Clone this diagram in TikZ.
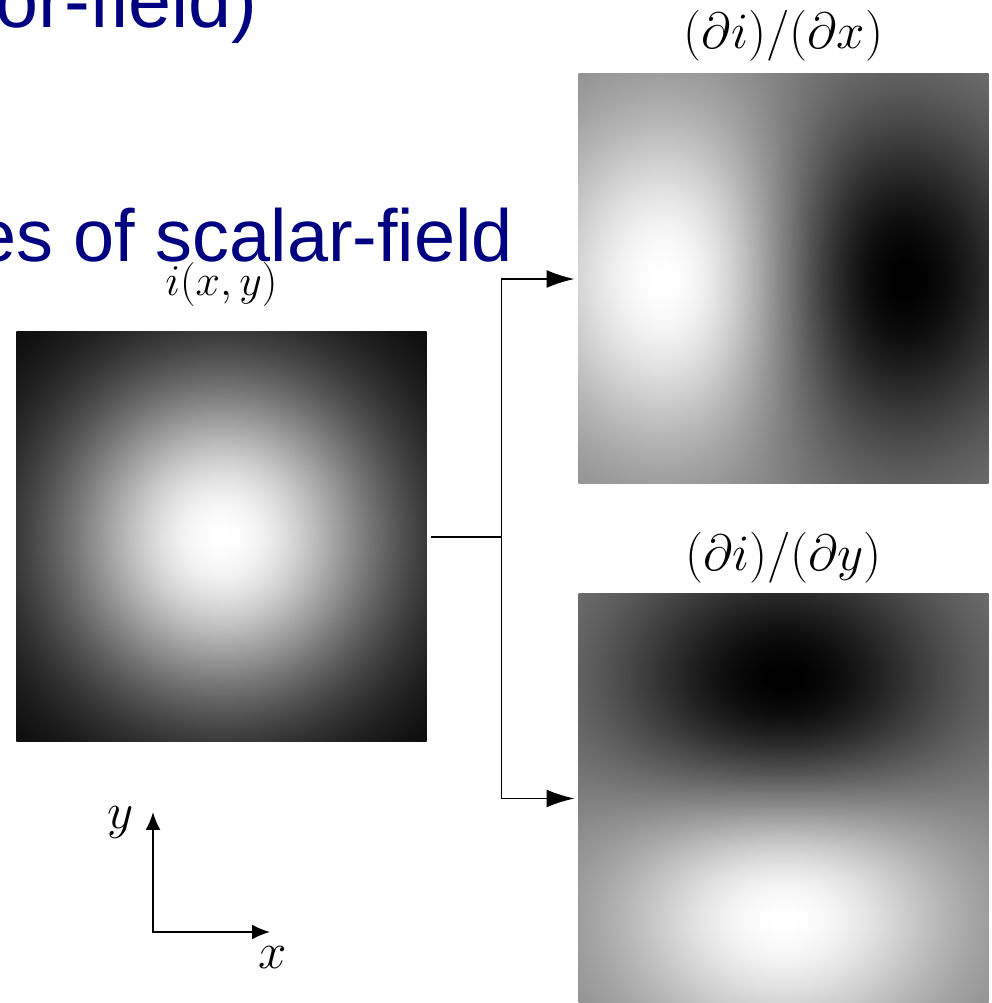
\documentclass[tikz,border=0pt]{standalone}
\usepackage{fix-cm}
\usepackage{fontspec}
\newfontfamily\slidefont{Liberation Sans}
\usetikzlibrary{arrows.meta,positioning,calc}
\definecolor{slideblue}{RGB}{0,0,128}

% intensity i(x,y) and its two partial derivatives
\pgfdeclarefunctionalshading{bump}{\pgfpoint{-50bp}{-50bp}}{\pgfpoint{50bp}{50bp}}{}{
  dup mul exch dup mul add 420 div neg 2.71828 exch exp dup dup
}
\pgfdeclarefunctionalshading{bumpdx}{\pgfpoint{-50bp}{-50bp}}{\pgfpoint{50bp}{50bp}}{}{
  dup mul 1 index dup mul add 440 div neg 2.71828 exch exp mul -0.05559 mul 0.5 add dup dup
}
\pgfdeclarefunctionalshading{bumpdy}{\pgfpoint{-50bp}{-50bp}}{\pgfpoint{50bp}{50bp}}{}{
  exch dup mul 1 index dup mul add 440 div neg 2.71828 exch exp mul -0.05559 mul 0.5 add dup dup
}

\tikzset{
    img/.style={minimum width=8.2cm, minimum height=8.2cm, inner sep=0pt, outer sep=0.08cm, shade},
    lbl/.style={inner sep=0pt, font=\fontsize{29}{34}\selectfont},
    slidetext/.style={anchor=base west, inner sep=0pt, text=slideblue, font=\slidefont\fontsize{42}{50}\selectfont},
    link/.style={line width=1.1pt},
    axis/.style={line width=1.1pt},
}

\begin{document}
\begin{tikzpicture}
        \def\imgx{4.43}
        \def\derx{15.67}

        \useasboundingbox (0,0) rectangle (19.84,20.06);
        \clip (0,0) rectangle (19.84,20.06);

        % cut off slide text
        \node[slidetext, font=\slidefont\fontsize{44}{52}\selectfont] (heading) at (-0.1,19.5) {or-field)};
        \node[slidetext] (subheading) at (-0.5,14.82) {es of scalar-field};

        \node[img, shading=bump] (field) at (\imgx,9.32) {};
        \node[img, shading=bumpdx] (dfdx) at (\derx,14.48) {};
        \node[img, shading=bumpdy] (dfdy) at (\derx,4.09) {};

        \node[lbl, font=\fontsize{25}{30}\selectfont, above=0.42cm of field] (fieldlabel) {$i(x,y)$};
        \node[lbl, above=0.16cm of dfdx] (dfdxlabel) {$(\partial i)/(\partial x)$};
        \node[lbl, above=0.12cm of dfdy] (dfdylabel) {$(\partial i)/(\partial y)$};

        % branches
        \coordinate (split) at ($(field.east)+(1.42,0)$);
        \draw[link] (field) -- (split);
        \draw[link, -{Latex[length=5.6mm,width=3.6mm]}] (split) |- (dfdx);
        \draw[link, -{Latex[length=5.6mm,width=3.6mm]}] (split) |- (dfdy);

        % axes
        \coordinate (origin) at (3.06,1.42);
        \coordinate (xtip) at (5.40,1.42);
        \coordinate (ytip) at (3.06,3.82);
        \draw[axis, {Latex[length=3.6mm,width=3mm]}-{Latex[length=3.6mm,width=3mm]}] (ytip) -- (origin) -- (xtip);
        \node[lbl] (xlabel) at (5.46,0.90) {$x$};
        \node[lbl] (ylabel) at (2.42,3.62) {$y$};
\end{tikzpicture}
\end{document}
